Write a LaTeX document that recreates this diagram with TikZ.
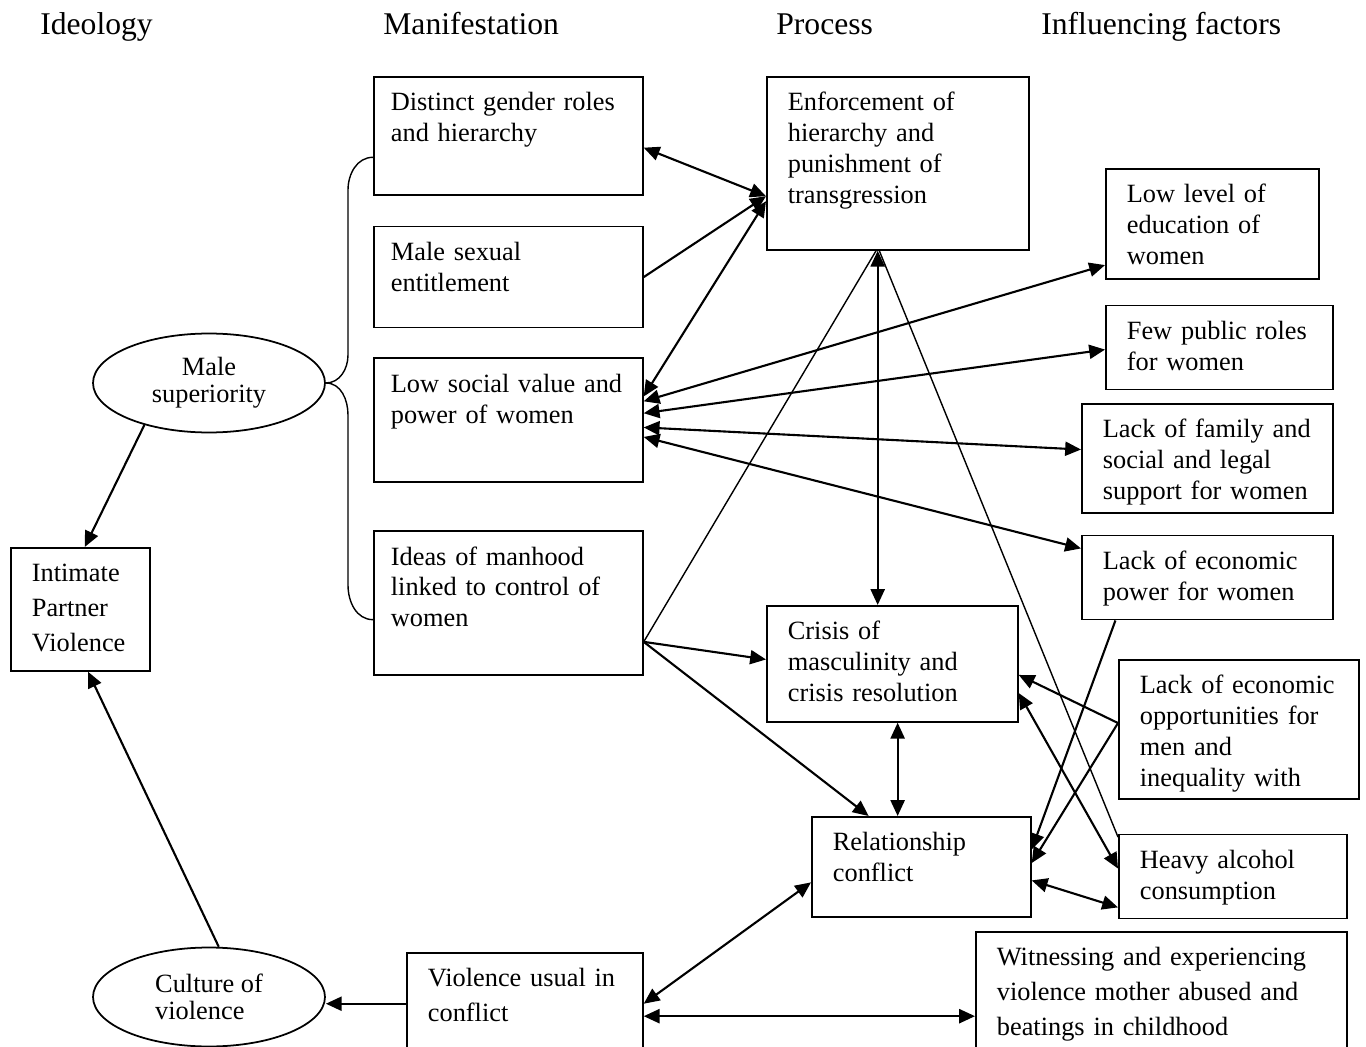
\documentclass[tikz,border=0pt]{standalone}
\usepackage{fontspec}
\setmainfont{Liberation Serif}
\usepackage{tikz}
\usetikzlibrary{positioning,shapes.geometric,arrows.meta}
\newcommand{\boxfont}{\fontsize{15}{17.6}\selectfont}
\newcommand{\widefont}{\fontsize{15}{19.8}\selectfont}
\newcommand{\headfont}{\fontsize{18}{21}\selectfont}
\tikzstyle{factor}=[rectangle, draw=black, line width=1pt, anchor=north west, align=left, inner xsep=0.42cm, inner ysep=0.2cm, text height=0.48cm, font=\boxfont]
\tikzstyle{manif}=[factor, inner xsep=0.34cm, text width=4.70cm]
\tikzstyle{belief}=[ellipse, draw=black, line width=1pt, inner sep=0pt, minimum width=4.64cm, minimum height=1.98cm, font={\fontsize{15}{15.5}\selectfont}]
\tikzstyle{colhead}=[anchor=base west, inner sep=0pt, font=\headfont]
\tikzstyle{link}=[line width=1.2pt, -{Triangle[length=9pt,width=8pt]}]
\tikzstyle{mutual}=[line width=1.2pt, {Triangle[length=9pt,width=8pt]}-{Triangle[length=9pt,width=8pt]}]
\tikzstyle{faint}=[line width=0.8pt]

\begin{document}
\begin{tikzpicture}[x=0.02cm, y=-0.02cm]
        \clip (0,0) rectangle (1366,1047);
        % column heads
        \node(hideo)[colhead] at (40,35) {Ideology};
        \node(hmani)[colhead] at (383,35) {Manifestation};
        \node(hproc)[colhead] at (776,35) {Process};
        \node(hinfl)[colhead] at (1041,35) {Influencing factors};
        % ideology
        \node(ipv)[factor, text width=1.94cm, text depth=1.58cm, font=\widefont] at (10,547) {
            Intimate\\Partner\\Violence
        };
        \node(male)[belief, align=center] at (209,383) {
            Male\\superiority
        };
        \node(culture)[belief, align=left] at (209,997) {
            Culture of\\violence
        };
        % manifestation
        \node(dist)[manif, text depth=1.48cm] at (373,76) {
            Distinct gender roles\\and hierarchy
        };
        \node(sexual)[manif, text depth=1.14cm, below=0.6cm of dist] {
            Male sexual\\entitlement
        };
        \node(lowvalue)[manif, text depth=1.60cm, below=0.58cm of sexual] {
            Low social value and\\power of women
        };
        \node(manhood)[manif, text depth=2.00cm, below=0.94cm of lowvalue] {
            Ideas of manhood\\linked to control of\\women
        };
        \node(violence)[factor, text width=3.88cm, text depth=1.32cm, font=\widefont] at (406,952) {
            Violence usual in\\conflict
        };
        % process
        \node(enforce)[factor, text width=4.40cm, text depth=2.58cm] at (766,76) {
            Enforcement of\\hierarchy and\\punishment of\\transgression
        };
        \node(crisis)[factor, text width=4.18cm, text depth=1.44cm] at (766,605) {
            Crisis of\\masculinity and\\crisis resolution
        };
        \node(relation)[factor, text width=3.54cm, text depth=1.12cm] at (811,816) {
            Relationship\\conflict
        };
        % influencing factors
        \node(education)[factor, text width=3.42cm, text depth=1.32cm] at (1105,168) {
            Low level of\\education of\\women
        };
        \node(public)[factor, text width=3.70cm, text depth=0.80cm, below=0.5cm of education.south west, anchor=north west] {
            Few public roles\\for women
        };
        \node(family)[factor, text width=4.18cm, text depth=1.30cm] at (1081,403) {
            Lack of family and\\social and legal\\support for women
        };
        \node(econpower)[factor, text width=4.18cm, text depth=0.80cm, below=0.42cm of family] {
            Lack of economic\\power for women
        };
        \node(opport)[factor, text width=3.96cm, text depth=1.90cm] at (1118,659) {
            Lack of economic\\opportunities for\\men and\\inequality with
        };
        \node(alcohol)[factor, text width=3.72cm, text depth=0.80cm, below=0.68cm of opport.south west, anchor=north west] {
            Heavy alcohol\\consumption
        };
        \node(witness)[factor, text width=6.58cm, text depth=1.72cm, font=\widefont] at (975,931) {
            Witnessing and experiencing\\violence mother abused and\\beatings in childhood
        };
        % brace
        \draw[faint] (dist.189) to[out=180,in=90] (348,190) -- (348,355) to[out=270,in=0] (male.east);
        \draw[faint] (male.east) to[out=0,in=90] (348,415) -- (348,585) to[out=270,in=180] (manhood.187);
        % connectors
        \draw[link] (male.213) -- (ipv.86);
        \draw[link] (culture.79) -- (ipv.277);
        \draw[link] (violence.178) -- (violence.178 -| culture.east);
        \draw[mutual] (dist.355) -- (enforce.194);
        \draw[link] (sexual.east) -- (enforce.194);
        \draw[mutual] (lowvalue.10) -- (enforce.196);
        \draw[mutual] (lowvalue.8) -- (education.201);
        \draw[mutual] (lowvalue.3) -- (public.181);
        \draw[mutual] (lowvalue.357) -- (family.176);
        \draw[mutual] (lowvalue.353) -- (econpower.167);
        \draw[mutual] (enforce.257) -- (enforce.257 |- crisis.north);
        \draw[faint] (manhood.344) -- (enforce.256);
        \draw[faint] (alcohol.161) -- (enforce.258);
        \draw[link] (manhood.344) -- (crisis.178);
        \draw[link] (manhood.344) -- (relation.136);
        \draw[mutual] (crisis.south -| relation.115) -- (relation.115);
        \draw[link] (econpower.205) -- (relation.9);
        \draw[link] (opport.177) -- (crisis.355);
        \draw[link] (opport.177) -- (relation.2);
        \draw[mutual] (crisis.347) -- (alcohol.176);
        \draw[mutual] (relation.353) -- (alcohol.195);
        \draw[mutual] (violence.2) -- (relation.188);
        \draw[mutual] (violence.356) -- (violence.356 -| witness.west);
\end{tikzpicture}
\end{document}
